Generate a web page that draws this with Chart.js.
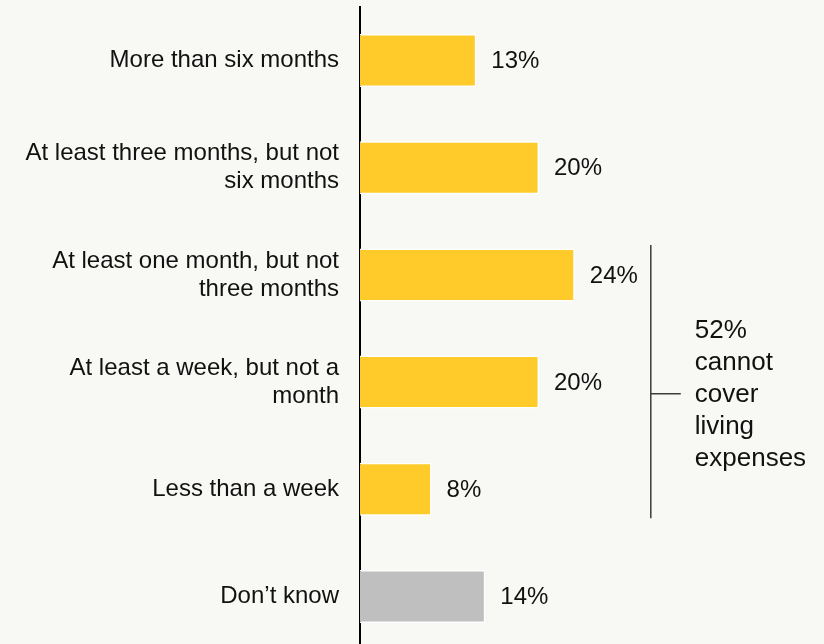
<!DOCTYPE html>
<html>
<head>
<meta charset="utf-8">
<script src="https://cdn.jsdelivr.net/npm/chart.js@4"></script>
<style>
  html, body { margin: 0; padding: 0; background: #f8f8f4; overflow: hidden; }
  #wrap { position: absolute; left: 0; top: 0; width: 824px; height: 650px; }
</style>
</head>
<body>
<div id="wrap"><canvas id="c" width="824" height="650"></canvas></div>
<script>
// How long savings would cover living expenses
const categories = [
  "More than six months",
  ["At least three months, but not", "six months"],
  ["At least one month, but not", "three months"],
  ["At least a week, but not a", "month"],
  "Less than a week",
  "Don\u2019t know"
];
const shares = [13, 20, 24, 20, 8, 14];
const barColors = ["#ffcb2b", "#ffcb2b", "#ffcb2b", "#ffcb2b", "#ffcb2b", "#bfbfbf"];
const bracketText = ["52%", "cannot", "cover", "living", "expenses"];
const bracketFrom = 2; // first category in the bracket
const bracketTo = 4;   // last category in the bracket

const FONT = "'Liberation Sans', Arial, sans-serif";

const valueLabels = {
  id: "valueLabels",
  afterDatasetsDraw(chart) {
    const ctx = chart.ctx;
    const meta = chart.getDatasetMeta(0);
    ctx.save();
    ctx.font = "24px " + FONT;
    ctx.fillStyle = "#111";
    ctx.textAlign = "left";
    ctx.textBaseline = "middle";
    meta.data.forEach((bar, i) => {
      ctx.fillText(shares[i] + "%", bar.x + 15, bar.y + 1);
    });
    ctx.restore();
  }
};

const bracket = {
  id: "bracket",
  afterDraw(chart) {
    const ctx = chart.ctx;
    const y = chart.scales.y;
    const x = chart.scales.x;
    const step = y.getPixelForValue(1) - y.getPixelForValue(0);
    const top = y.getPixelForValue(bracketFrom) - step * 0.28;
    const bottom = y.getPixelForValue(bracketTo) + step * 0.27;
    const mid = y.getPixelForValue((bracketFrom + bracketTo) / 2) + step * 0.11;
    const bx = x.getPixelForValue(Math.max(...shares)) + 76;
    ctx.save();
    ctx.strokeStyle = "#3c3c3c";
    ctx.lineWidth = 1.5;
    ctx.beginPath();
    ctx.moveTo(bx, top);
    ctx.lineTo(bx, bottom);
    ctx.moveTo(bx, mid);
    ctx.lineTo(bx + 30, mid);
    ctx.stroke();
    ctx.font = "26px " + FONT;
    ctx.fillStyle = "#111";
    ctx.textAlign = "left";
    ctx.textBaseline = "middle";
    const lh = 32;
    const n = bracketText.length;
    bracketText.forEach((t, i) => {
      ctx.fillText(t, bx + 44, mid + 1 + (i - (n - 1) / 2) * lh);
    });
    ctx.restore();
  }
};

new Chart(document.getElementById("c"), {
  type: "bar",
  data: {
    labels: categories,
    datasets: [{
      data: shares,
      backgroundColor: barColors,
      borderColor: "#ffffff",
      borderWidth: 1.5,
      categoryPercentage: 1,
      barPercentage: 0.495
    }]
  },
  options: {
    indexAxis: "y",
    responsive: false,
    animation: false,
    devicePixelRatio: 1,
    layout: { padding: { top: 7, right: 16.5, bottom: 0, left: 0 } },
    plugins: {
      legend: { display: false },
      tooltip: { enabled: false }
    },
    scales: {
      x: {
        display: false,
        min: 0,
        max: 50
      },
      y: {
        afterFit(scale) {
          scale.width = 360;
          scale.paddingTop = 0;
          scale.paddingBottom = 0;
        },
        grid: { display: false, drawTicks: false },
        border: { display: true, color: "#000", width: 2 },
        ticks: {
          color: "#111",
          padding: 21,
          autoSkip: false,
          font: { family: FONT, size: 24, lineHeight: 1.17 }
        }
      }
    }
  },
  plugins: [valueLabels, bracket]
});
</script>
</body>
</html>
